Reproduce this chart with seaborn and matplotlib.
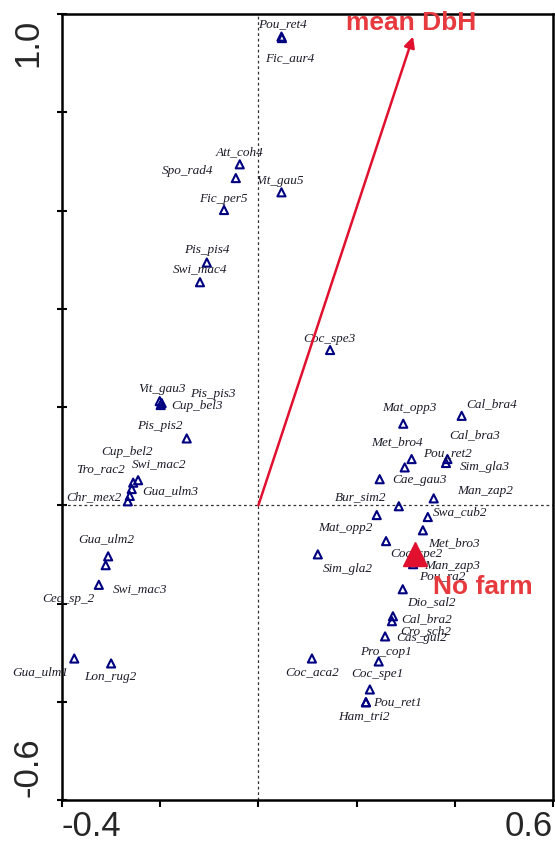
import numpy as np
import pandas as pd
import matplotlib
matplotlib.use("Agg")
import matplotlib.pyplot as plt
import matplotlib.transforms as mtransforms
import seaborn as sns

# ---------------- data ----------------
species = ["Pou_ret4", "Fic_aur4", "Vit_gau5", "Att_coh4", "Spo_rad4", "Fic_per5",
           "Pis_pis4", "Swi_mac4", "Vit_gau3", "Pis_pis3", "Cup_bel3", "Pis_pis2",
           "Swi_mac2", "Cup_bel2", "Tro_rac2", "Gua_ulm3", "Chr_mex2", "Gua_ulm2",
           "Swi_mac3", "Cec_sp_2", "Gua_ulm1", "Lon_rug2", "Coc_spe3", "Mat_opp3",
           "Cal_bra4", "Cal_bra3", "Met_bro4", "Pou_ret2", "Sim_gla3", "Cae_gau3",
           "Man_zap2", "Bur_sim2", "Swa_cub2", "Mat_opp2", "Met_bro3", "Coc_spe2",
           "Sim_gla2", "Man_zap3", "Pou_ra2", "Dio_sal2", "Cal_bra2", "Cro_sch2",
           "Cas_gui2", "Pro_cop1", "Coc_aca2", "Coc_spe1", "Pou_ret1", "Ham_tri2"]
axis1 = [0.047, 0.048, 0.047, -0.038, -0.046, -0.070,
         -0.105, -0.119, -0.201, -0.197, -0.199, -0.146,
         -0.245, -0.255, -0.258, -0.262, -0.266, -0.306,
         -0.311, -0.325, -0.375, -0.300, 0.146, 0.295,
         0.414, 0.385, 0.312, 0.298, 0.382, 0.247,
         0.357, 0.286, 0.345, 0.241, 0.335, 0.260,
         0.121, 0.315, 0.313, 0.294, 0.274, 0.272,
         0.258, 0.245, 0.109, 0.227, 0.219, 0.219]
axis2 = [0.954, 0.951, 0.637, 0.694, 0.666, 0.601,
         0.494, 0.454, 0.212, 0.208, 0.204, 0.136,
         0.051, 0.046, 0.033, 0.019, 0.008, -0.104,
         -0.122, -0.162, -0.312, -0.322, 0.316, 0.166,
         0.182, 0.094, 0.094, 0.077, 0.086, 0.053,
         0.014, -0.002, -0.024, -0.020, -0.051, -0.073,
         -0.100, -0.120, -0.110, -0.171, -0.226, -0.236,
         -0.267, -0.318, -0.312, -0.375, -0.401, -0.401]

arrow_name = "mean DbH"
arrow_x, arrow_y = 0.315, 0.954
centroid_name = "No farm"
centroid_x, centroid_y = 0.319, -0.100

xticks = [-0.4, -0.2, 0.0, 0.2, 0.4, 0.6]
xticklabels = ["-0.4", "", "", "", "", "0.6"]
yticks = [-0.6, -0.4, -0.2, 0.0, 0.2, 0.4, 0.6, 0.8, 1.0]
yticklabels = ["-0.6", "", "", "", "", "", "", "", "1.0"]

# label layout (pixel offsets of label centre from its point; +dy = downwards)
label_offsets = [(1, -12), (8, 20), (-1, -11), (0, -12), (-48, -7), (-1, -11),
                 (0, -13), (0, -13), (2, -12), (51, -9), (36, 1), (-27, -12),
                 (21, -16), (-6, -31), (-31, -20), (41, -5), (-34, -4), (-2, -17),
                 (34, 24), (-30, 14), (-34, 14), (-1, 14), (-1, -11), (6, -16),
                 (30, -12), (27, -24), (-15, -17), (43, -14), (39, 4), (40, 1),
                 (51, -7), (-38, -9), (32, -5), (-31, 13), (31, 13), (30, 13),
                 (30, 15), (39, 2), (30, 17), (29, 13), (34, 3), (34, 10),
                 (37, 2), (7, -9), (0, 14), (8, -15), (32, 0), (-2, 14)]

df = pd.DataFrame({"species": species, "ax1": axis1, "ax2": axis2})

# ---------------- plot ----------------
sns.set_theme(style="white")
plt.rcParams["font.family"] = ["Liberation Sans", "DejaVu Sans"]

DPI = 100
fig = plt.figure(figsize=(5.55, 8.44), dpi=DPI)
ax = fig.add_axes([62 / 555, 44 / 844, 491 / 555, 786 / 844])

ax.axhline(0, color="#333333", lw=0.9, ls=(0, (2.2, 2.2)), zorder=1)
ax.axvline(0, color="#333333", lw=0.9, ls=(0, (2.2, 2.2)), zorder=1)

sns.scatterplot(data=df, x="ax1", y="ax2", marker="^", s=34,
                facecolor="none", edgecolor="#000080", linewidth=1.5,
                ax=ax, zorder=3, legend=False)

px2pt = 72.0 / DPI
for name, x, y, (dx, dy) in zip(species, axis1, axis2, label_offsets):
    ax.annotate(name, xy=(x, y), xytext=(dx * px2pt, -dy * px2pt),
                textcoords="offset points", ha="center", va="center",
                fontsize=9.5, fontstyle="italic", family="Liberation Serif",
                color="#1c1c2a", zorder=4)

# environmental arrow
ax.annotate("", xy=(arrow_x, arrow_y), xytext=(0, 0),
            arrowprops=dict(arrowstyle="-|>", color="#e0102e", lw=1.8,
                            mutation_scale=16, shrinkA=0, shrinkB=0),
            zorder=5)
ax.annotate(arrow_name, xy=(arrow_x, arrow_y), xytext=(-2 * px2pt, 14 * px2pt),
            textcoords="offset points", ha="center", va="center",
            fontsize=19, fontweight="bold", color="#e63a3f",
            annotation_clip=False, zorder=7)

# nominal variable centroid
ax.plot([centroid_x], [centroid_y], marker="^", markersize=17,
        color="#e0102e", linestyle="none", zorder=6)
ax.annotate(centroid_name, xy=(centroid_x, centroid_y),
            xytext=(18 * px2pt, -33 * px2pt), textcoords="offset points",
            ha="left", va="center", fontsize=19, fontweight="bold",
            color="#e63a3f", zorder=7)

ax.set_xlim(-0.4, 0.6)
ax.set_ylim(-0.6, 1.0)
ax.set_xlabel("")
ax.set_ylabel("")

ax.set_xticks(xticks)
ax.set_xticklabels(xticklabels, fontsize=25)
ax.set_yticks(yticks)
ax.set_yticklabels(yticklabels, fontsize=25, rotation=90)
ax.tick_params(axis="x", direction="out", length=5, width=1.5, color="black",
               pad=2, bottom=True)
ax.tick_params(axis="y", direction="inout", length=7, width=1.5, color="black",
               pad=9, left=True)
xl = ax.get_xticklabels()
xl[0].set_ha("left")
xl[-1].set_ha("right")
yl = ax.get_yticklabels()
yl[0].set_va("bottom")
yl[-1].set_va("top")
for lab in yl:
    lab.set_ha("right")
# nudge the top y label slightly downward, as in the reference
yl[-1].set_transform(yl[-1].get_transform() +
                     mtransforms.ScaledTranslation(0, -5 / DPI, fig.dpi_scale_trans))
yl[0].set_transform(yl[0].get_transform() +
                    mtransforms.ScaledTranslation(0, 3 / DPI, fig.dpi_scale_trans))

for sp in ax.spines.values():
    sp.set_visible(True)
    sp.set_color("black")
    sp.set_linewidth(1.8)

fig.savefig("out.png", dpi=DPI)
